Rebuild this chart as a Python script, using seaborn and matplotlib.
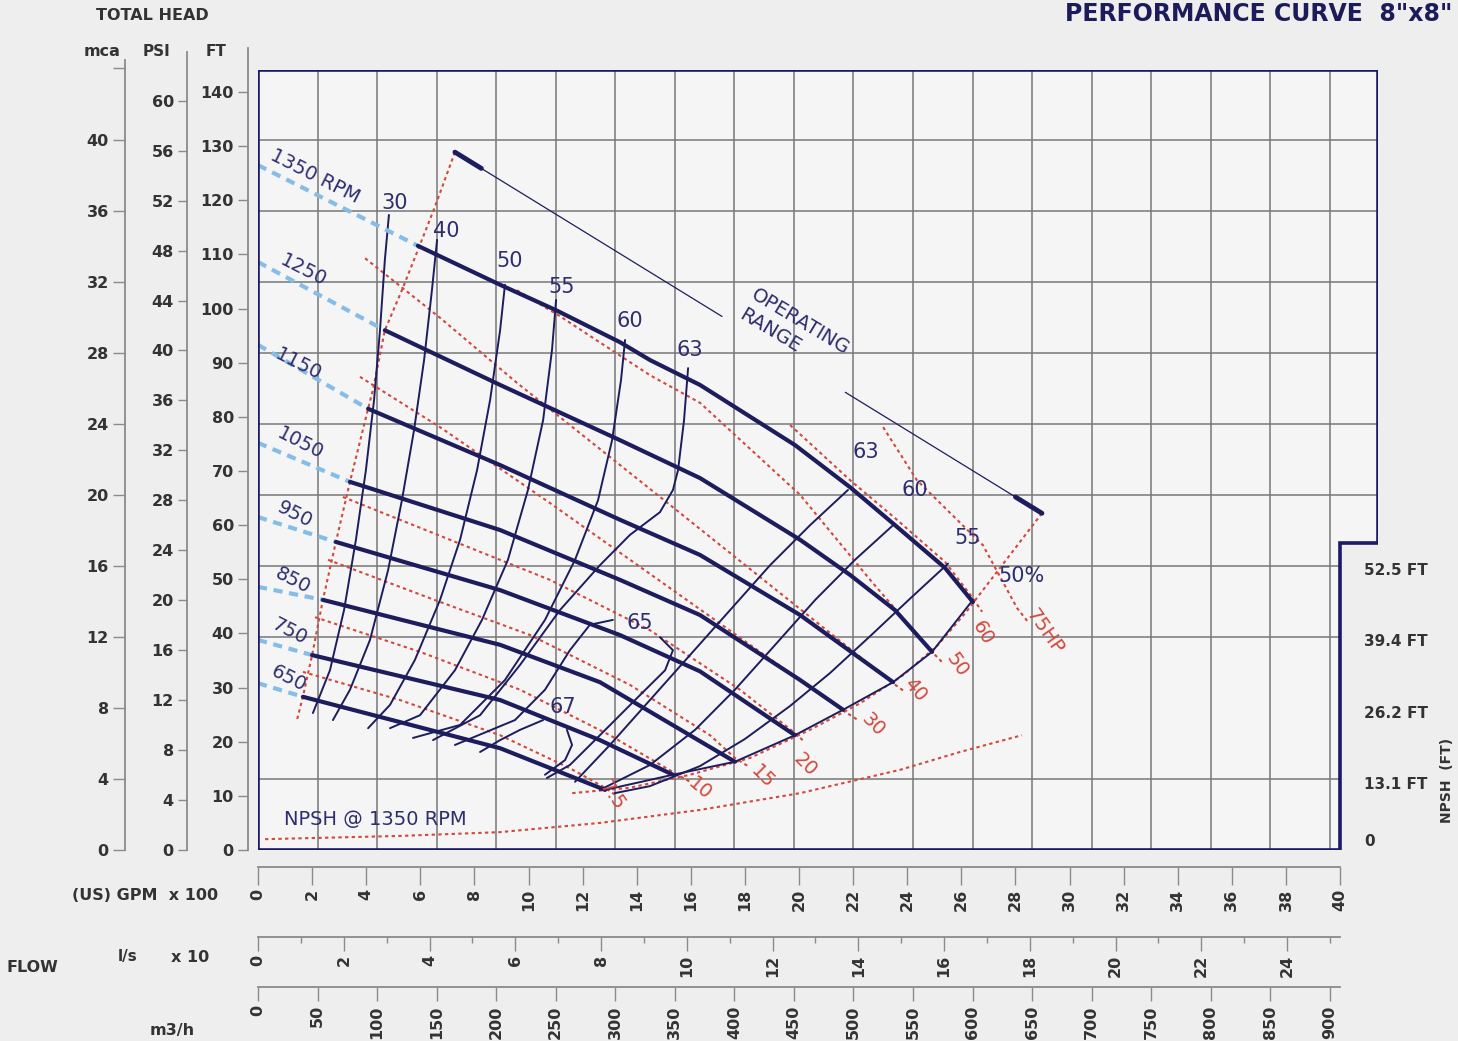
import numpy as np
import pandas as pd
import matplotlib
matplotlib.use("Agg")
import matplotlib.pyplot as plt
import seaborn as sns

# ---------------- data: flow in US GPM x 100, head in FT ----------------
rpm_names = ["1350 RPM", "1250", "1150", "1050", "950", "850", "750", "650"]

rpm_1350_x = [5.91, 8.95, 11.02, 13.38, 14.49, 16.34, 19.85, 21.89, 23.55, 25.40, 26.43]
rpm_1350_y = [111.6, 104.4, 99.7, 93.8, 90.5, 85.9, 74.8, 67.0, 60.0, 52.1, 45.8]
rpm_1250_x = [4.69, 8.95, 13.38, 16.34, 20.04, 21.89, 23.55, 24.92]
rpm_1250_y = [96.0, 85.9, 75.7, 68.7, 57.3, 50.8, 44.3, 36.6]
rpm_1150_x = [4.07, 8.95, 13.38, 16.34, 20.04, 23.48]
rpm_1150_y = [81.5, 71.1, 61.0, 54.5, 43.4, 31.0]
rpm_1050_x = [3.40, 8.95, 13.38, 16.34, 20.04, 21.63]
rpm_1050_y = [68.0, 59.1, 49.9, 43.4, 31.4, 25.9]
rpm_950_x = [2.88, 8.95, 13.38, 16.34, 19.85]
rpm_950_y = [56.9, 48.0, 39.7, 33.0, 21.2]
rpm_850_x = [2.40, 8.95, 12.64, 17.63]
rpm_850_y = [46.2, 37.9, 31.0, 16.3]
rpm_750_x = [2.00, 8.95, 12.64, 15.34]
rpm_750_y = [36.0, 27.7, 20.3, 13.9]
rpm_650_x = [1.66, 8.95, 12.83]
rpm_650_y = [28.3, 18.8, 11.1]
# head where the dashed (light blue) extension meets zero flow
rpm_shutoff = [126.5, 108.6, 93.3, 75.2, 61.5, 48.6, 38.8, 30.8]

# iso-efficiency lines (%)
eff_30_x = [4.84, 4.69, 4.51, 4.29, 3.99, 3.62, 3.18, 2.66, 2.03]
eff_30_y = [117.3, 109.0, 96.0, 83.1, 70.2, 57.3, 44.3, 33.2, 25.3]
eff_40_x = [6.62, 6.43, 6.14, 5.77, 5.32, 4.81, 4.14, 3.40, 2.77]
eff_40_y = [112.7, 103.4, 90.5, 77.6, 64.6, 51.7, 38.8, 29.6, 24.0]
eff_50_x = [9.13, 8.95, 8.58, 8.10, 7.47, 6.73, 5.80, 4.88, 4.07]
eff_50_y = [104.4, 96.0, 83.1, 70.2, 57.3, 46.2, 35.1, 26.8, 22.5]
eff_55_x = [11.02, 10.87, 10.54, 9.98, 9.24, 8.28, 7.28, 5.99, 4.88]
eff_55_y = [101.6, 92.4, 79.4, 66.5, 53.6, 42.5, 33.2, 24.9, 22.5]
eff_60_x = [13.57, 13.42, 13.09, 12.57, 11.72, 10.61, 9.13, 7.47, 5.73]
eff_60_y = [94.2, 86.8, 75.7, 64.6, 53.6, 42.5, 31.4, 23.1, 20.7]
eff_63_x = [15.90, 15.75, 15.53, 15.34, 14.86, 13.75, 12.64, 11.16, 9.69, 8.21, 6.47]
eff_63_y = [89.0, 79.4, 70.2, 66.5, 62.4, 58.2, 52.6, 44.3, 34.2, 24.9, 20.3]
eff_65a_x = [13.12, 12.27, 11.53, 10.61, 9.50, 7.28]
eff_65a_y = [42.5, 41.6, 36.9, 29.6, 24.0, 19.4]
eff_65b_x = [14.86, 15.34, 15.05, 14.12, 12.64, 11.53, 10.68]
eff_65b_y = [39.3, 36.9, 33.2, 28.6, 21.2, 15.7, 13.3]
eff_67a_x = [10.54, 9.69, 8.95, 8.21]
eff_67a_y = [24.0, 22.2, 20.3, 18.1]
eff_67b_x = [11.42, 11.61, 11.35, 10.61]
eff_67b_y = [22.2, 19.4, 16.6, 13.9]
eff_r63_x = [21.81, 20.41, 18.93, 17.45, 15.97, 14.49, 13.01, 11.72]
eff_r63_y = [66.5, 60.0, 52.6, 44.3, 36.0, 27.7, 19.4, 12.6]
eff_r60_x = [23.48, 22.07, 20.60, 19.12, 17.63, 16.16, 14.49, 12.64]
eff_r60_y = [60.0, 53.6, 46.2, 37.9, 29.6, 22.2, 15.7, 11.1]
eff_r55_x = [25.51, 24.10, 22.63, 21.15, 19.67, 18.00, 16.34, 14.49, 13.19]
eff_r55_y = [52.9, 46.4, 39.5, 32.7, 26.6, 20.5, 15.5, 11.8, 10.5]
eff_end_x = [26.43, 24.92, 23.48, 21.63, 19.85, 17.63, 15.34, 12.83]
eff_end_y = [46.2, 36.6, 31.0, 25.9, 21.2, 16.3, 13.9, 11.1]

# iso-power lines (HP)
hp_labels = ["7.5", "10", "15", "20", "30", "40", "50", "60", "75HP"]
hp_75_x = [23.11, 24.36, 26.80, 28.06, 28.47]
hp_75_y = [78.1, 68.3, 56.3, 44.7, 42.1]
hp_60_x = [19.67, 21.89, 23.55, 25.40, 26.40, 26.77]
hp_60_y = [78.5, 68.3, 61.3, 53.2, 46.7, 44.0]
hp_50_x = [9.57, 11.16, 14.49, 16.34, 20.04, 22.63, 24.92, 25.29]
hp_50_y = [103.4, 98.6, 87.7, 82.6, 65.6, 49.9, 36.6, 34.7]
hp_40_x = [3.96, 6.73, 9.57, 14.49, 20.04, 23.48, 23.92]
hp_40_y = [109.3, 98.3, 86.3, 66.7, 44.5, 30.8, 29.2]
hp_30_x = [3.77, 6.73, 10.79, 14.49, 18.19, 21.59, 22.18]
hp_30_y = [87.4, 78.1, 64.1, 51.0, 37.9, 25.9, 24.0]
hp_20_x = [3.14, 7.10, 10.79, 14.49, 17.82, 19.85, 20.22]
hp_20_y = [65.2, 57.3, 49.9, 40.6, 29.6, 21.6, 19.9]
hp_15_x = [2.59, 6.36, 10.06, 13.75, 16.71, 17.63, 18.11]
hp_15_y = [53.6, 46.5, 39.7, 30.5, 21.2, 17.0, 15.5]
hp_10_x = [2.11, 5.99, 9.69, 13.01, 15.34, 15.97]
hp_10_y = [43.0, 36.6, 29.6, 21.2, 14.4, 12.6]
hp_7_x = [1.66, 5.25, 8.95, 11.53, 12.83, 13.20]
hp_7_y = [32.9, 27.7, 21.2, 15.1, 11.5, 10.2]

# envelope lines, operating range, NPSH
env_left_x = [7.28, 6.54, 5.91, 5.32, 4.69, 4.25, 4.07, 3.40, 2.88, 2.40, 2.00, 1.66, 1.44]
env_left_y = [128.9, 118.8, 110.8, 103.4, 96.0, 85.0, 81.5, 68.0, 56.9, 46.2, 36.0, 28.3, 24.0]
env_right_x = [28.98, 27.80, 26.80, 26.17, 25.14, 23.85, 22.26, 20.41, 18.19, 15.97, 13.75, 11.61]
env_right_y = [62.2, 54.5, 48.0, 43.9, 37.9, 32.3, 27.1, 22.2, 17.0, 13.9, 11.5, 10.5]
op_range_x = [7.28, 28.98]
op_range_y = [128.9, 62.2]
npsh_x = [0.26, 5.25, 8.95, 12.64, 16.34, 20.04, 23.73, 25.95, 28.24]
npsh_y = [2.0, 2.6, 3.3, 5.0, 7.4, 10.5, 14.8, 18.1, 21.2]

# axis scales
ft_ticks = list(range(0, 141, 10))
psi_ticks = list(range(0, 61, 4))
mca_ticks = list(range(0, 45, 4))
mca_labels = [str(t) for t in range(0, 41, 4)] + [""]
gpm_ticks = list(range(0, 41, 2))
ls_ticks = list(range(0, 25, 2))
m3h_ticks = list(range(0, 901, 50))
npsh_labels = ["0", "13.1 FT", "26.2 FT", "39.4 FT", "52.5 FT"]
npsh_ft = [0.0, 13.1, 26.2, 39.4, 52.5]

# ---------------- layout helpers ----------------
W, H = 1458, 1041
FT_PX = 5.414    # px per ft
GPM_PX = 27.05   # px per 100 gpm
NAVY = "#1d1d5e"
TXT = "#2e2e6e"
RED = "#d2483c"
BLUE = "#86bde6"
GRID = "#777777"
DARK = "#333333"
SCALE = "#8a8a8a"


def fx(x):
    return x / W


def fy(y):
    return 1 - y / H


sns.set_theme(style="white")
plt.rcParams["font.family"] = ["DejaVu Sans"]

fig = plt.figure(figsize=(W / 100, H / 100), dpi=100, facecolor="#eeeeee")

ax = fig.add_axes([fx(258), fy(850), 1120 / W, 780 / H])
xmax = 1120 / GPM_PX
ymax = 780 / FT_PX
ax.set_xlim(0, xmax)
ax.set_ylim(0, ymax)
ax.axis("off")

notch_ft = (850 - 543) / FT_PX
ax.fill([0, 0, xmax, xmax, 40, 40], [0, ymax, ymax, notch_ft, notch_ft, 0],
        color="#f5f5f5", zorder=0)

# grid: vertical every 50 m3/h, horizontal every 4 mca (8 mca line not drawn)
for m in range(50, 901, 50):
    ax.plot([m / 22.7125] * 2, [0, ymax], color=GRID, lw=1.1, zorder=1)
for m in [4, 12, 16, 20, 24, 28, 32, 36, 40]:
    f = m * 3.2808
    ax.plot([0, 40 if f < notch_ft else xmax], [f, f], color=GRID, lw=1.1, zorder=1)

# frame with the NPSH notch
ax.plot([0, 0, xmax, xmax, 40, 40, 0], [0, ymax, ymax, notch_ft, notch_ft, 0, 0],
        color="#1a1a66", lw=2.6, zorder=6, solid_joinstyle="miter")

# red dotted lines
red_ls = (0, (1.6, 1.6))
for xs, ys in [(hp_75_x, hp_75_y), (hp_60_x, hp_60_y), (hp_50_x, hp_50_y),
               (hp_40_x, hp_40_y), (hp_30_x, hp_30_y), (hp_20_x, hp_20_y),
               (hp_15_x, hp_15_y), (hp_10_x, hp_10_y), (hp_7_x, hp_7_y),
               (env_left_x, env_left_y), (env_right_x, env_right_y), (npsh_x, npsh_y)]:
    sns.lineplot(x=xs, y=ys, ax=ax, sort=False, estimator=None, color=RED,
                 lw=1.5, linestyle=red_ls, zorder=2)

# iso-efficiency thin lines
for xs, ys in [(eff_30_x, eff_30_y), (eff_40_x, eff_40_y), (eff_50_x, eff_50_y),
               (eff_55_x, eff_55_y), (eff_60_x, eff_60_y), (eff_63_x, eff_63_y),
               (eff_65a_x, eff_65a_y), (eff_65b_x, eff_65b_y), (eff_67a_x, eff_67a_y),
               (eff_67b_x, eff_67b_y), (eff_r63_x, eff_r63_y), (eff_r60_x, eff_r60_y),
               (eff_r55_x, eff_r55_y), (eff_end_x, eff_end_y)]:
    sns.lineplot(x=xs, y=ys, ax=ax, sort=False, estimator=None, color=NAVY,
                 lw=1.4, zorder=3)

# rpm curves with light blue dashed extension to zero flow
rpm_curves = [(rpm_1350_x, rpm_1350_y), (rpm_1250_x, rpm_1250_y), (rpm_1150_x, rpm_1150_y),
              (rpm_1050_x, rpm_1050_y), (rpm_950_x, rpm_950_y), (rpm_850_x, rpm_850_y),
              (rpm_750_x, rpm_750_y), (rpm_650_x, rpm_650_y)]
for (xs, ys), h0 in zip(rpm_curves, rpm_shutoff):
    sns.lineplot(x=[0, xs[0]], y=[h0, ys[0]], ax=ax, sort=False, estimator=None,
                 color=BLUE, lw=3.0, linestyle=(0, (2.2, 1.6)), zorder=4)
    sns.lineplot(x=xs, y=ys, ax=ax, sort=False, estimator=None, color=NAVY,
                 lw=3.0, zorder=5)

# operating range line (broken around its label) with heavy ends
ox = np.array(op_range_x)
oy = np.array(op_range_y)
t_cuts = [(0.0, 0.045), (0.045, 0.455), (0.665, 0.955), (0.955, 1.0)]
for (a, b), lw in zip(t_cuts, [3.5, 0.9, 0.9, 3.5]):
    sns.lineplot(x=ox[0] + (ox[1] - ox[0]) * np.array([a, b]),
                 y=oy[0] + (oy[1] - oy[0]) * np.array([a, b]),
                 ax=ax, sort=False, estimator=None, color=NAVY, lw=lw, zorder=5)

# ---------------- texts inside the chart ----------------
rpm_label_pos = [(315, 176), (303, 270), (298, 364), (300, 443), (295, 515), (293, 581), (289, 632), (289, 679)]
for name, (px_, py_) in zip(rpm_names, rpm_label_pos):
    fig.text(fx(px_), fy(py_), name, color=TXT, fontsize=14, rotation=-27,
             ha="center", va="center", zorder=10)

eff_texts = [("30", 395, 203), ("40", 446, 231), ("50", 510, 261), ("55", 562, 287),
             ("60", 630, 321), ("63", 690, 350), ("63", 866, 452), ("60", 915, 490),
             ("55", 968, 538), ("50%", 1022, 576), ("65", 640, 623), ("67", 563, 707)]
for s, px_, py_ in eff_texts:
    fig.text(fx(px_), fy(py_), s, color=TXT, fontsize=15, ha="center", va="center")

hp_pos = [(612, 796, -55), (700, 789, -40), (763, 777, -45), (805, 765, -45), (873, 725, -45),
          (915, 690, -50), (957, 665, -55), (983, 633, -60), (1045, 632, -55)]
for s, (px_, py_, rot) in zip(hp_labels, hp_pos):
    fig.text(fx(px_), fy(py_), s, color=RED, fontsize=14, rotation=rot,
             ha="center", va="center")

fig.text(fx(794), fy(332), "OPERATING\nRANGE", color=TXT, fontsize=14, rotation=-31,
         ha="center", va="center", linespacing=1.25, multialignment="left")
fig.text(fx(375), fy(820), "NPSH @ 1350 RPM", color=TXT, fontsize=14, ha="center", va="center")


# ---------------- head scales on the left ----------------
def vscale(x_px, top_px, scale, ticks, labels, tick_px):
    a = fig.add_axes([fx(x_px), fy(850), 1e-4, (850 - top_px) / H])
    a.set_ylim(0, (850 - top_px) / FT_PX / scale)
    for s in ["top", "right", "bottom"]:
        a.spines[s].set_visible(False)
    a.spines["left"].set_color(SCALE)
    a.spines["left"].set_linewidth(1.3)
    a.set_xticks([])
    a.set_yticks(ticks)
    a.set_yticklabels(labels)
    a.tick_params(axis="y", left=True, direction="out", length=tick_px * 0.72, width=1.0,
                  color=SCALE, labelsize=11.5, labelcolor=DARK, pad=3)
    for t in a.get_yticklabels():
        t.set_fontweight("bold")
    a.set_facecolor("none")
    return a


vscale(248, 48, 1.0, ft_ticks, [str(t) for t in ft_ticks], 10)
vscale(187, 52, 2.3067, psi_ticks, [str(t) for t in psi_ticks], 9)
vscale(125, 60, 3.2808, mca_ticks, mca_labels, 12)

fig.text(fx(152), fy(16), "TOTAL HEAD", fontsize=11.5, fontweight="bold", color=DARK, ha="center", va="center")
fig.text(fx(102), fy(52), "mca", fontsize=11.5, fontweight="bold", color=DARK, ha="center", va="center")
fig.text(fx(156), fy(52), "PSI", fontsize=11, fontweight="bold", color=DARK, ha="center", va="center")
fig.text(fx(216), fy(52), "FT", fontsize=11, fontweight="bold", color=DARK, ha="center", va="center")


# ---------------- flow scales at the bottom ----------------
def hscale(y_px, vmax, ticks, tick_px, minor=None):
    a = fig.add_axes([fx(258), fy(y_px), (1340 - 258) / W, 1e-4])
    a.set_xlim(0, vmax)
    for s in ["top", "right", "left"]:
        a.spines[s].set_visible(False)
    a.spines["bottom"].set_color(SCALE)
    a.spines["bottom"].set_linewidth(1.3)
    a.set_yticks([])
    a.set_xticks(ticks)
    a.set_xticklabels([str(t) for t in ticks], rotation=90)
    a.tick_params(axis="x", bottom=True, direction="out", length=tick_px * 0.72, width=1.0,
                  color=SCALE, labelsize=11.5, labelcolor=DARK, pad=3)
    if minor is not None:
        a.set_xticks(minor, minor=True)
        a.tick_params(axis="x", which="minor", bottom=True, direction="out",
                      length=6 * 0.72, width=1.0, color=SCALE)
    for t in a.get_xticklabels():
        t.set_fontweight("bold")
    a.set_facecolor("none")
    return a


hscale(867, 40, gpm_ticks, 18)
hscale(937, 40 * 0.6309, ls_ticks, 14, minor=list(range(1, 26, 2)))
hscale(987, 40 * 22.7125, m3h_ticks, 14)

fig.text(fx(218), fy(896), "(US) GPM  x 100", fontsize=11.5, fontweight="bold", color=DARK, ha="right", va="center")
fig.text(fx(32), fy(968), "FLOW", fontsize=11.5, fontweight="bold", color=DARK, ha="center", va="center")
fig.text(fx(128), fy(957), "l/s", fontsize=11, fontweight="bold", color=DARK, ha="center", va="center")
fig.text(fx(190), fy(957), "x 10", fontsize=11.5, fontweight="bold", color=DARK, ha="center", va="center")
fig.text(fx(172), fy(1030), "m3/h", fontsize=11.5, fontweight="bold", color=DARK, ha="center", va="center")

# ---------------- NPSH scale on the right ----------------
for lab, f in zip(npsh_labels, npsh_ft):
    yy = 850 - f * FT_PX + (5 if f > 0 else -8)
    fig.text(fx(1364), fy(yy), lab, fontsize=11, fontweight="bold", color=DARK, ha="left", va="center")
fig.text(fx(1447), fy(780), "NPSH  (FT)", fontsize=10, fontweight="bold", color=DARK,
         rotation=90, ha="center", va="center")

# ---------------- title ----------------
fig.text(fx(1452), fy(14), "PERFORMANCE CURVE  8\"x8\"", fontsize=17, fontweight="bold",
         color="#1c1c5a", ha="right", va="center")

fig.savefig("out.png", dpi=100, facecolor=fig.get_facecolor())
